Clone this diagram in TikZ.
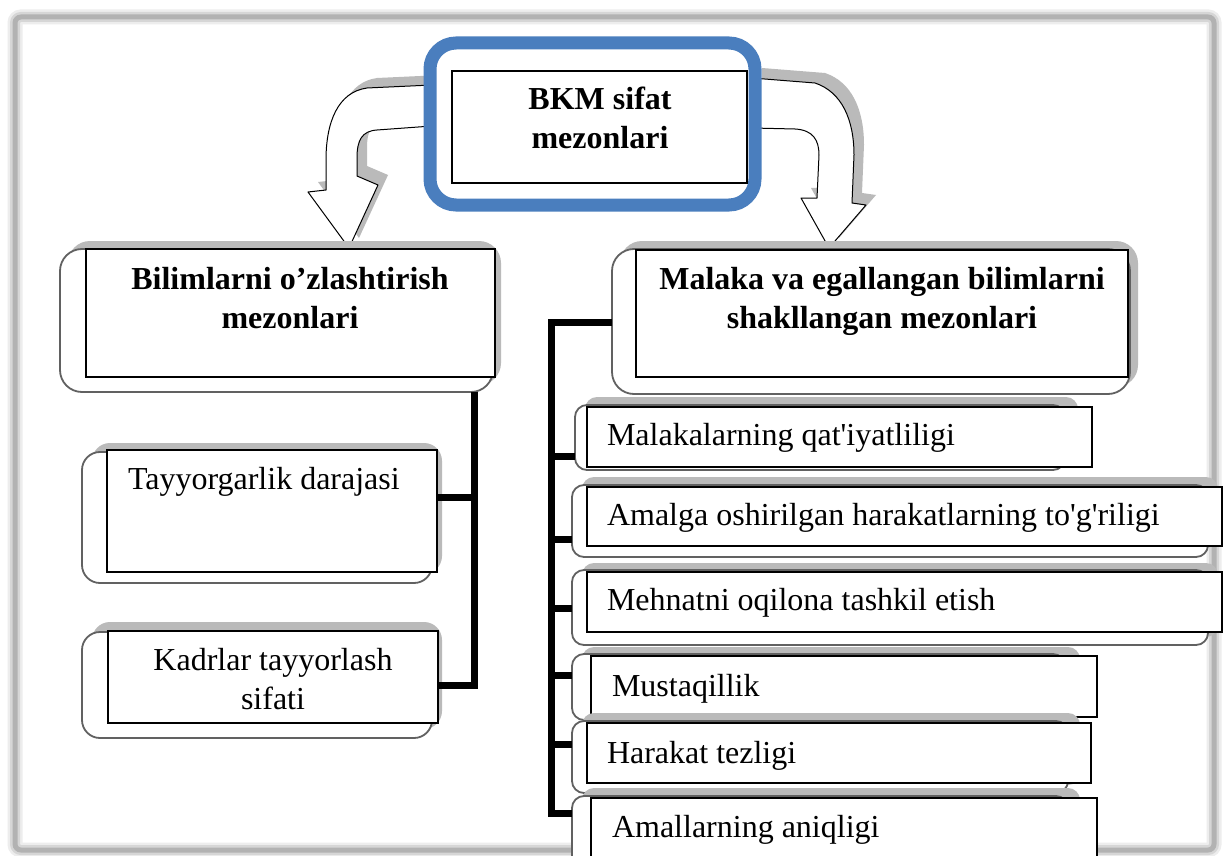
\documentclass[tikz,border=0pt]{standalone}
\usepackage{fontspec}
\setmainfont{Liberation Serif}[Ligatures=TeXOff]
\usetikzlibrary{fit}
\definecolor{bkmblue}{RGB}{74,126,190}
\begin{document}
\begin{tikzpicture}[x=1pt,y=-1pt,line join=miter,
  every node/.style={inner sep=0pt,outer sep=0pt},
  fnt/.style={font=\fontsize{32}{39}\selectfont},
  lefttext/.style={fnt,anchor=base west},
  ctext/.style={fnt,anchor=base},
  boldtext/.style={font=\fontsize{32}{39}\selectfont\bfseries,anchor=base},
  shadowbox/.style={fill=black!27,rounded corners=#1},
  backbox/.style={draw=black!62,line width=1.8pt,fill=white,rounded corners=#1},
  rectbox/.style={draw=black,line width=1.3pt,fill=white},
  bus/.style={line width=7pt,black},
  arrowshadow/.style={fill=black!27},
  arrowbody/.style={draw=black,line width=1pt,fill=white,line join=round},
]
\useasboundingbox (0,0) rectangle (1224,856);
\fill[white] (0,0) rectangle (1224,856);
% outer frame (soft shadowed border)
\draw[line width=15pt,black!7,rounded corners=6pt] (15,17) rectangle (1214,850);
\draw[line width=10pt,black!16,rounded corners=6pt] (15,17) rectangle (1214,850);
\draw[line width=5pt,black!30,rounded corners=6pt] (15,17) rectangle (1214,850);

% curved arrows (shadows, then bodies)
\path[arrowshadow,shift={(10,-10)}] (432,85) -- (367,88) .. controls (338,92) and (326,122) .. (326,160) -- (326,190) -- (308,192) -- (349,248) -- (378,185) -- (357,176) -- (357,158) .. controls (357,140) and (362,131) .. (377,130) -- (432,126) -- cycle;
\path[arrowshadow,shift={(10,-10)}] (752,78) -- (815,83) .. controls (842,92) and (854,120) .. (854,155) -- (852,203) -- (866,205) -- (829,248) -- (801,198) -- (817,198) -- (819,155) .. controls (819,140) and (813,130) .. (795,129) -- (752,128) -- cycle;
\path[arrowbody] (432,85) -- (367,88) .. controls (338,92) and (326,122) .. (326,160) -- (326,190) -- (308,192) -- (349,248) -- (378,185) -- (357,176) -- (357,158) .. controls (357,140) and (362,131) .. (377,130) -- (432,126) -- cycle;
\path[arrowbody] (752,78) -- (815,83) .. controls (842,92) and (854,120) .. (854,155) -- (852,203) -- (866,205) -- (829,248) -- (801,198) -- (817,198) -- (819,155) .. controls (819,140) and (813,130) .. (795,129) -- (752,128) -- cycle;

% top node
\node[draw=bkmblue,line width=13pt,rounded corners=26pt,fill=white,fit={(430,43)(755,205)}] (topframe) {};
\node[rectbox,fit={(452,71)(747,183)}] (bkm) {};
\node[boldtext] (bkmt) at (600,110) {\begin{tabular}[t]{@{}c@{}}BKM sifat\\mezonlari\end{tabular}};

% left level-2
\node[shadowbox=22pt,fit={(68,241)(501,385)}] (L1s) {};
\node[backbox=22pt,fit={(60,249)(493,392)}] (L1b) {};
\node[rectbox,fit={(86,249)(495,377)}] (L1) {};
\node[boldtext] (L1t) at (290,289) {\begin{tabular}[t]{@{}c@{}}Bilimlarni o’zlashtirish\\mezonlari\end{tabular}};

% right level-2
\node[shadowbox=22pt,fit={(620,241)(1138,387)}] (R1s) {};
\node[backbox=22pt,fit={(612,249)(1130,394)}] (R1b) {};
\node[rectbox,fit={(636,250)(1128,377)}] (R1) {};
\node[boldtext] (R1t) at (882,289) {\begin{tabular}[t]{@{}c@{}}Malaka va egallangan bilimlarni\\shakllangan mezonlari\end{tabular}};

% left children
\node[shadowbox=18pt,fit={(92,443)(442,574)}] (Ts) {};
\node[backbox=18pt,fit={(82,452)(432,583)}] (Tb) {};
\node[rectbox,fit={(107,450)(437,572)}] (T) {};
\node[lefttext] (Tt) at (128,489) {Tayyorgarlik darajasi};

\node[shadowbox=18pt,fit={(92,622)(442,729)}] (Ks) {};
\node[backbox=18pt,fit={(82,632)(432,738)}] (Kb) {};
\node[rectbox,fit={(108,631)(438,723)}] (K) {};
\node[ctext] (Kt) at (273,670) {\begin{tabular}[t]{@{}c@{}}Kadrlar tayyorlash\\sifati\end{tabular}};

% right children
\node[shadowbox=12pt,fit={(585,397)(1078,462)}] (c1s) {};
\node[backbox=12pt,fit={(575,405)(1065,470)}] (c1b) {};
\node[rectbox,fit={(587,407)(1092,467)}] (c1) {};
\node[lefttext] (c1t) at (607,445) {Malakalarning qat'iyatliligi};

\node[shadowbox=12pt,fit={(582,477)(1218,548)}] (c2s) {};
\node[backbox=12pt,fit={(572,485)(1208,557)}] (c2b) {};
\node[rectbox,fit={(587,487)(1222,546)}] (c2) {};
\node[lefttext] (c2t) at (607,525) {Amalga oshirilgan harakatlarning to'g'riligi};

\node[shadowbox=12pt,fit={(582,563)(1218,637)}] (c3s) {};
\node[backbox=12pt,fit={(572,570)(1208,645)}] (c3b) {};
\node[rectbox,fit={(587,572)(1222,632)}] (c3) {};
\node[lefttext] (c3t) at (607,610) {Mehnatni oqilona tashkil etish};

\node[shadowbox=12pt,fit={(582,647)(1080,712)}] (c4s) {};
\node[backbox=12pt,fit={(572,654)(1065,720)}] (c4b) {};
\node[rectbox,fit={(591,656)(1097,717)}] (c4) {};
\node[lefttext] (c4t) at (612,696) {Mustaqillik};

\node[shadowbox=12pt,fit={(582,713)(1080,785)}] (c5s) {};
\node[backbox=12pt,fit={(572,721)(1068,793)}] (c5b) {};
\node[rectbox,fit={(587,723)(1091,783)}] (c5) {};
\node[lefttext] (c5t) at (607,763) {Harakat tezligi};

\node[shadowbox=12pt,fit={(582,788)(1080,870)}] (c6s) {};
\node[backbox=12pt,fit={(572,796)(1068,875)}] (c6b) {};
\node[rectbox,fit={(591,798)(1097,875)}] (c6) {};
\node[lefttext] (c6t) at (612,837) {Amallarning aniqligi};

% connectors
\coordinate (lx) at (474,0);
\coordinate (lt) at (474,497);
\coordinate (lk) at (474,685);
\draw[bus] (lx |- L1b.south) -- (lk) -- (lk -| K.east);
\draw[bus] (lt) -- (lt -| T.east);

\coordinate (rtop) at (551,322);
\coordinate (rb1) at (551,456);
\coordinate (rb2) at (551,539);
\coordinate (rb3) at (551,608);
\coordinate (rb4) at (551,675);
\coordinate (rb5) at (551,744);
\coordinate (rb6) at (551,813);
\draw[bus] (rtop -| R1b.west) -- (rtop) -- (rb6) -- (rb6 -| c6b.west);
\draw[bus] (rb1) -- (rb1 -| c1b.west);
\draw[bus] (rb2) -- (rb2 -| c2b.west);
\draw[bus] (rb3) -- (rb3 -| c3b.west);
\draw[bus] (rb4) -- (rb4 -| c4b.west);
\draw[bus] (rb5) -- (rb5 -| c5b.west);
\end{tikzpicture}
\end{document}
